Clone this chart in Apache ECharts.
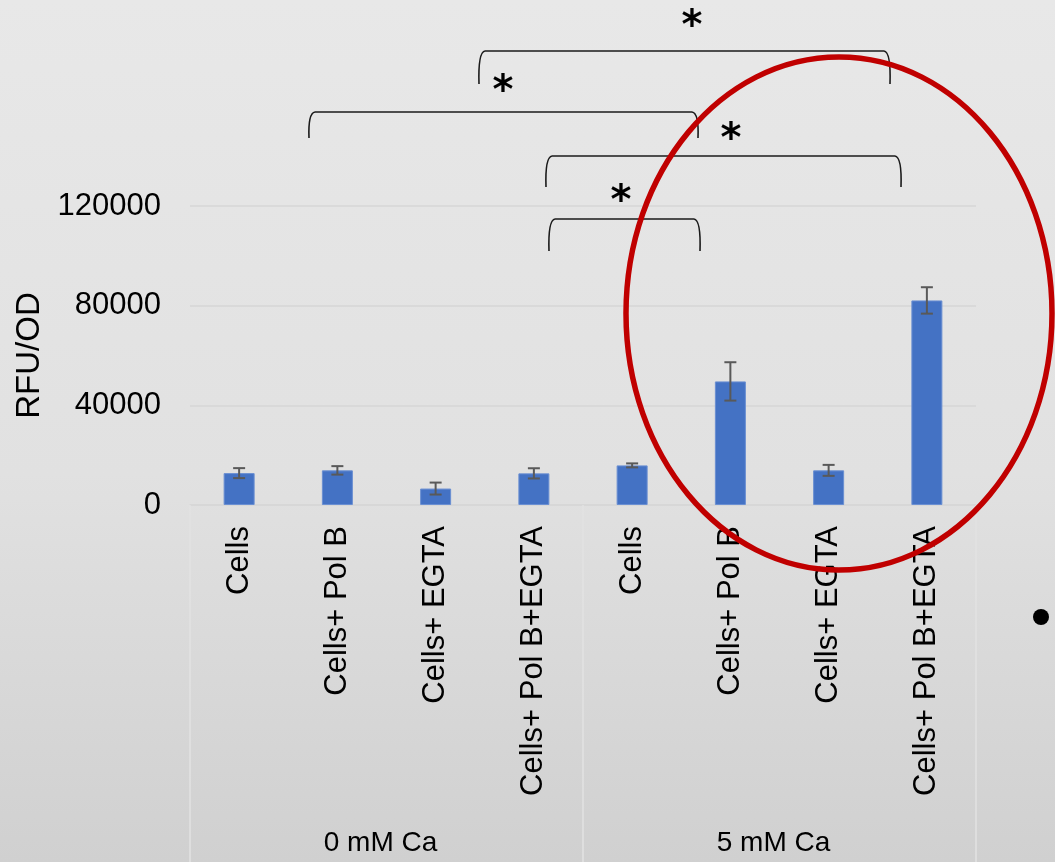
<!DOCTYPE html>
<html>
<head>
<meta charset="utf-8">
<title>RFU/OD by treatment and calcium</title>
<script src="https://cdn.jsdelivr.net/npm/echarts@6/dist/echarts.min.js"></script>
<style>
  html, body { margin: 0; padding: 0; }
  #chart { width: 1055px; height: 862px; }
</style>
</head>
<body>
<div id="chart"></div>
<script>
// Treatments, shown once for each calcium condition
const categories = [
  'Cells', 'Cells+ Pol B', 'Cells+ EGTA', 'Cells+ Pol B+EGTA',
  'Cells', 'Cells+ Pol B', 'Cells+ EGTA', 'Cells+ Pol B+EGTA'
];
const groups = ['0 mM Ca', '5 mM Ca'];
// Mean RFU/OD and its error (±)
const means = [12800, 13900, 6600, 12700, 15900, 49600, 13900, 82100];
const errors = [2000, 1700, 2400, 2050, 800, 7700, 2200, 5300];
const yTicks = [0, 40000, 80000, 120000];

const FONT = "'Liberation Sans', Arial, sans-serif";

// Significance brackets: [left x, right x, bar y, leg bottom y, star x, star y]
const brackets = [
  [479, 890, 51, 84, 692, 18],
  [309, 698, 112, 138, 503, 83],
  [546, 901, 156, 187, 731, 131],
  [549, 700, 219, 251, 621, 193]
];

const graphics = [];
const bStyle = { fill: null, stroke: '#1a1a1a', lineWidth: 1.6 };
brackets.forEach(b => {
  const [x1, x2, yt, yb, sx, sy] = b;
  const r = 6;
  graphics.push({
    type: 'bezierCurve', z: 50,
    shape: { x1: x1, y1: yb, cpx1: x1 - 1, cpy1: yt + 1, x2: x1 + r, y2: yt },
    style: bStyle
  });
  graphics.push({
    type: 'line', z: 50,
    shape: { x1: x1 + r, y1: yt, x2: x2 - r, y2: yt },
    style: bStyle
  });
  graphics.push({
    type: 'bezierCurve', z: 50,
    shape: { x1: x2 - r, y1: yt, cpx1: x2 + 1, cpy1: yt + 1, x2: x2, y2: yb },
    style: bStyle
  });
  graphics.push({
    type: 'text', z: 50, x: sx, y: sy + 10,
    style: {
      text: '*', fill: '#000', font: 'bold 40px "DejaVu Sans", sans-serif',
      textAlign: 'center', textVerticalAlign: 'middle'
    }
  });
});
// Highlight ring around the 5 mM Ca treatments
graphics.push({
  type: 'ellipse', z: 60,
  shape: { cx: 839, cy: 313.5, rx: 213, ry: 256.5 },
  style: { fill: null, stroke: '#c00000', lineWidth: 5.5 }
});
// Slide bullet
graphics.push({
  type: 'circle', z: 60,
  shape: { cx: 1041, cy: 617, r: 8 },
  style: { fill: '#000' }
});

const chart = echarts.init(document.getElementById('chart'), null, { renderer: 'canvas' });

chart.setOption({
  animation: false,
  backgroundColor: {
    type: 'linear', x: 0, y: 0, x2: 0, y2: 1,
    colorStops: [
      { offset: 0, color: '#e8e8e8' },
      { offset: 0.55, color: '#e1e1e1' },
      { offset: 1, color: '#d0d0d0' }
    ]
  },
  grid: { left: 190, right: 79, top: 206, bottom: 357, containLabel: false },
  xAxis: [
    {
      type: 'category',
      data: categories,
      position: 'bottom',
      axisLine: { show: true, lineStyle: { color: '#d6d6d6', width: 1.5 } },
      axisTick: { show: false },
      axisLabel: {
        interval: 0, rotate: 90, margin: 21,
        fontFamily: FONT, fontSize: 31, color: '#000'
      }
    },
    {
      type: 'category',
      data: groups,
      position: 'bottom',
      axisLine: { show: false },
      axisTick: {
        show: true, interval: 0, length: 360,
        lineStyle: { color: '#e2e2e2', width: 1.5 }
      },
      axisLabel: {
        interval: 0, margin: 324,
        padding: [0, 12, 0, 0],
        fontFamily: FONT, fontSize: 28, color: '#000'
      }
    }
  ],
  yAxis: {
    type: 'value',
    min: yTicks[0],
    max: yTicks[yTicks.length - 1],
    interval: yTicks[1] - yTicks[0],
    name: 'RFU/OD',
    nameLocation: 'middle',
    nameRotate: 90,
    nameGap: 141,
    nameTextStyle: { fontFamily: FONT, fontSize: 33, color: '#000' },
    axisLine: { show: false },
    axisTick: { show: false },
    splitLine: { lineStyle: { color: '#d6d6d6', width: 1.5 } },
    axisLabel: {
      margin: 29, fontFamily: FONT, fontSize: 31, color: '#000',
      formatter: v => String(v)
    }
  },
  series: [
    {
      type: 'bar',
      xAxisIndex: 0,
      data: means,
      barWidth: 31,
      itemStyle: { color: '#4472c4', borderColor: '#6a8fd2', borderWidth: 1 }
    },
    {
      type: 'custom',
      xAxisIndex: 0,
      z: 10,
      data: means.map((m, i) => [i, m, errors[i]]),
      renderItem: function (params, api) {
        const i = api.value(0), m = api.value(1), e = api.value(2);
        const top = api.coord([i, m + e]);
        const bot = api.coord([i, m - e]);
        const w = 6;
        const st = { stroke: '#595959', lineWidth: 2 };
        return {
          type: 'group',
          children: [
            { type: 'line', shape: { x1: top[0], y1: top[1], x2: bot[0], y2: bot[1] }, style: st },
            { type: 'line', shape: { x1: top[0] - w, y1: top[1], x2: top[0] + w, y2: top[1] }, style: st },
            { type: 'line', shape: { x1: bot[0] - w, y1: bot[1], x2: bot[0] + w, y2: bot[1] }, style: st }
          ]
        };
      }
    }
  ],
  graphic: graphics
});
</script>
</body>
</html>
